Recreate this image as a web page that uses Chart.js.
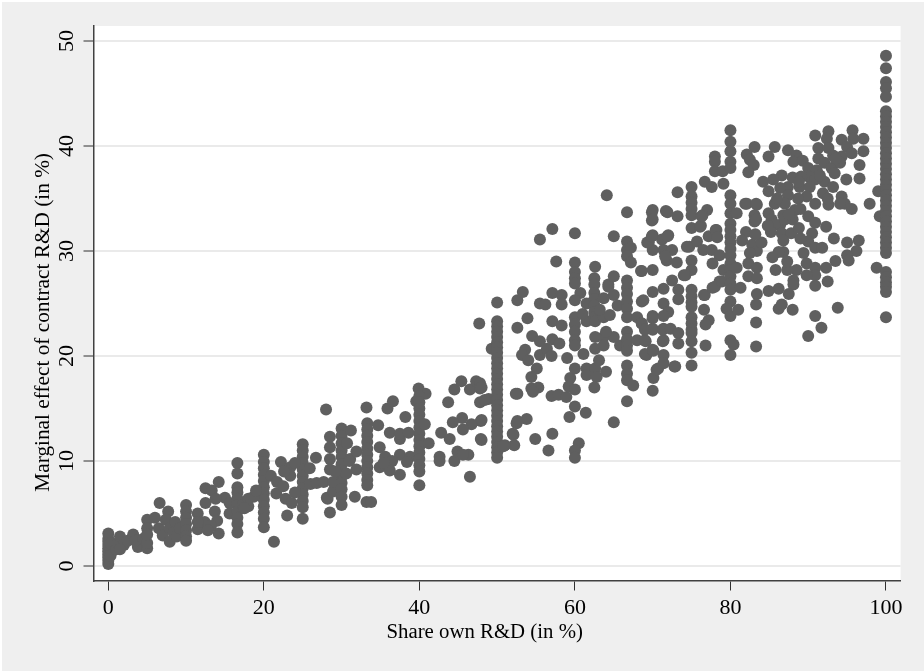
<!DOCTYPE html>
<html>
<head>
<meta charset="utf-8">
<title>Marginal effect of contract R&amp;D</title>
<script src="https://cdn.jsdelivr.net/npm/chart.js@4"></script>
<style>
  html, body { margin: 0; padding: 0; background: #fff; }
  #wrap { position: absolute; left: 2px; top: 2px; width: 922px; height: 669px; background: #efefef; }
</style>
</head>
<body>
<div id="wrap"><canvas id="chartScatter" width="922" height="669"></canvas></div>
<script>
// === values, [share own R&D, marginal effect] ===
const xTicks = [0, 20, 40, 60, 80, 100];
const yTicks = [0, 10, 20, 30, 40, 50];
const xTitle = "Share own R&D (in %)";
const yTitle = "Marginal effect of contract R&D (in %)";

const col0 = [[0,0.2],[0,0.5],[0,0.8],[0,1.1],[0,1.4],[0,1.7],[0,2],[0,2.3],[0,2.6],[0,3.1],[0.3,1],[0.3,2.2]];
const low0to10 = [[1,1.6],[1.2,2.2],[1.5,2.8],[2,2],[2.5,2.4],[1.5,1.6],[3.2,3],[3.8,1.8],[3.5,2.4],[5,1.7],[4.5,2.6],[5,2.2],[5,4.4],[5,3.6],[5,3],
  [6.6,6],[6,4.6],[6.5,3.6],[7,2.9],[7.7,5.2],[7.4,4.4],[7.9,3.6],[8.6,4.2],[8.4,3.2],[7.9,2.3],[8.8,2.8],[9.2,3.6],
  [10,5.8],[10,5.2],[10,4.6],[10,4],[10,3.4],[10,2.8],[10,2.4]];
const low10to16 = [[12.5,7.4],[14.2,8],[12.5,6],[13.3,7.2],[13.7,5.2],[11.5,5],[14,4.3],[14.2,3.1],[11.5,3.5],[12.4,4.2],[13.2,3.8],[11.5,4.2],[12.8,3.4],[15,6.5],[15.6,6],[15.6,5],[13.8,6.4]];
const col16 = [[16.6,9.8],[16.6,8.8],[16.6,7.5],[16.6,7],[16.6,6.4],[16.6,5.8],[16.6,5.2],[16.6,4.6],[16.6,4],[16.6,3.2]];
const col20 = [[20,10.6],[20,9.9],[20,9.3],[20,8.7],[20,8.1],[20,7.5],[20,6.9],[20,6.3],[20,5.7],[20,5.1],[20,4.5],[20,3.7],
  [17.3,5.8],[18,6.4],[18.7,6.6],[19,7.2],[18,5.7],[17.5,5.5]];
const col25 = [[25,11.6],[25,11],[25,10.4],[25,9.8],[25,9.2],[25,8.6],[25,8],[25,7.4],[25,6.8],[25,6.2],[25,5.6],[25,4.5],
  [22.2,9.9],[23.4,9.4],[20.9,8.6],[21.7,8],[21.6,6.9],[22.8,6.4],[23,4.8],[21.3,2.3],[22.5,7.6],[23.4,8.6],[24,7],[23.6,6],[22.6,9],[24,9.8],[26,7.8]];
const col30 = [[26.7,10.3],[25.9,9.3],[26.8,7.9],[27.7,8],[28,14.9],[28.5,12.3],[28.5,11.3],[28.5,9.2],[28.2,6.4],[28.1,6.5],[28.5,5.1],[28.9,7.1],[28.9,8],
  [30,13.1],[30,12.4],[30,11.7],[30,11],[30,10.4],[30,9.7],[30,9.1],[30,8.5],[30,7.9],[30,7.3],[30,6.6],[30,5.8],
  [31.2,12.9],[30.7,11.7],[31.1,10.2],[31.9,10.9],[31,10],[31.9,9.2],[30.6,8.8],[31.7,6.6],[28.5,10.2],[29.2,9]];
const col33 = [[33.2,15.1],[33.3,13.6],[33.3,13],[33.3,12.4],[33.3,11.8],[33.3,11.2],[33.3,10.6],[33.3,10],[33.3,9.4],[33.3,8.8],[33.3,8.2],[33.3,7.7],[33.2,6.1],[33.8,6.1],
  [34.7,13.4],[36.2,12.7],[37.5,12.1],[37.5,12.6],[34.9,11.3],[35.6,10.4],[37.5,10.6],[38.8,10.4],[36.5,10],[34.9,9.4],[36.2,9.1],[37.5,8.7],[35.9,15],[36.6,15.7],[38.2,14.2],[35.4,9.8],[38.4,9.9]];
const col40 = [[39.9,16.9],[40.8,16.4],[39.6,15.7],[40,16.2],[40,15.6],[40,15],[40,14.4],[40,13.8],[40,13.2],[40,12.6],[40,12],[40,11.4],[40,10.8],[40,10.2],[40,9.6],[40,9],[40,7.7],
  [40.7,13.5],[41.2,11.7],[42.8,12.7],[42.6,10.4],[42.6,10],[38.6,12.7]];
const mid42to49 = [[43.7,15.6],[44.5,16.8],[45.4,17.6],[46.5,16.8],[47.3,17.6],[47.8,17.4],[47.8,16.9],[47.8,15.6],[48.9,15.9],[47.9,12.1],[47.9,13.8],[46.7,13.5],[45.6,13],[45.5,14.1],[44.3,13.7],[43.9,12.1],
  [44.5,10],[44.9,10.9],[46.3,10.6],[45.6,10.6],[46.5,8.5],[47.7,23.1],[48,17],[49.3,20.7],[48.4,15.8],[48,13.9],[48,12]];
const col50 = [[50,25.1],[50,23.3],[50,22.8],[50,22.3],[50,21.8],[50,21.3],[50,20.8],[50,20.3],[50,19.8],[50,19.3],[50,18.8],[50,18.3],[50,17.8],[50,17.3],[50,16.8],[50,16.3],[50,15.8],[50,15.3],[50,14.8],[50,14.3],[50,13.8],[50,13.3],[50,12.8],[50,12.3],[50,11.8],[50,11.3],[50,10.8],[50,10.3]];
const mid51to60 = [[52.6,25.3],[53.3,26.1],[53.9,23.6],[52.6,22.7],[55.5,25],[56.2,24.9],[57.1,26],[58.3,25.8],[58.3,24.9],[60.7,26],[57.1,23.3],[58.3,22.9],
  [54.5,21.9],[55.5,21.4],[53.6,20.6],[53.2,20.1],[54,19.6],[55.5,20.1],[56.4,20.7],[57,20],[57.1,21.6],[58,21.2],[55.1,18.8],[54.4,18],[54.4,16.9],[55.3,17],[54.6,16.6],[52.6,16.4],[57,16.2],[57.9,16.3],[58.9,16.1],[59,19.8],[59.4,17.9],[59.2,17.1],
  [59.3,14.2],[53.8,14],[52.5,13.6],[52,12.6],[52.2,11.5],[51,11.5],[54.9,12.1],[57.1,12.6],[56.6,11],[55.5,31.1],[57.1,32.1],[57.6,29],[52.4,16.4],[52.6,13.8],[52.1,12.5],[50.8,11.4]];
const col60 = [[60,31.7],[60,28.9],[60,28],[60,27.4],[60,26.9],[60,25.3],[60,23.7],[60,23],[60,22.3],[60,21.5],[60,21],[60,18.8],[60,16.8],[60,15.2],[60.5,11.7],[60,11],[60,10.3],[61.1,20.2],[61.5,18.8],[61.4,14.6],[61.5,18.2],[61.5,23.3],[61,24],[61.5,25]];
const col62 = [[62.6,28.5],[62.5,27.4],[62.5,26.8],[62.5,26],[62.5,25.4],[62.5,24.8],[62.5,24.2],[62.5,23.7],[62.6,23.3],[62.6,21.8],[62.6,20.7],[62.6,18.8],[62.8,18],[62.5,17],[63.1,19.6],[64,18.5],[65,13.7],
  [63.7,23.7],[64.5,23.9],[63.2,24.4],[63.7,21.8],[65,21.8],[63.7,21],[65.8,21],[65,25.8],[64.3,26.8],[63.7,25.5],[64.1,35.3],[65,31.4],[65,27.6],[64.3,26.6],[64,22.3],[65.5,24.8]];
const col66 = [[66.7,33.7],[66.7,30.9],[66.7,30.1],[67.2,30.3],[66.7,29.5],[67.2,28.9],[66.7,27.2],[66.7,26.5],[66.7,25.9],[66.7,25.2],[66.7,24.5],[66.7,23.7],[66.7,22.3],[66.7,21.6],[66.7,21],[66.7,20.5],[66.7,19.1],[66.7,18.3],[66.7,17.7],[67.5,17.2],[66.7,15.7],
  [68,23.7],[68.6,23.1],[68,21.5],[69.1,21.4],[69.2,20.1],[68.6,25.2],[68.5,28.1],[68.6,28.1],[68.8,25.3],[68.6,23.1],[69,21.5],[69,20.2],[69,22.5]];
const col70 = [[69.9,33.7],[69.9,32.9],[70,33.9],[70,33],[70,31.5],[69.5,30.8],[70,30.1],[70,28.2],[70,26.1],[70,23.8],[70,23.6],[70,22.6],[70,22.5],[70,20.6],[70.1,20.5],[70.7,18.8],[70.1,17.9],[70,16.7],[70.5,18.7],
  [71.9,33.7],[71.7,33.8],[71.2,31.1],[72,31.5],[71.4,30.1],[71.4,26.4],[71.4,25],[72,24.2],[71.4,23.8],[71.4,22.6],[71.4,21.5],[71.3,22.5],[71.3,21.4],[71.4,20.1],[71.4,19.3],[72.5,30.1],[71.8,29.1],[72.5,27.2],[72.3,22.6],[72.8,19],[71.9,31.4],[69.3,30.8],[69.9,31.4],[71.6,29.5]];
const col75 = [[73.2,35.6],[73.2,33.3],[73.1,28.9],[73.3,26.3],[73.3,25.4],[73.3,22.2],[73.3,21.2],[72.9,19],[75,36.1],[75,35.2],[75,34.6],[75,34],[75,33.4],[75,32.2],[75,29.1],[75,28.2],[74.2,27.7],[74,27.7],[75,26.3],[75,25.7],[75,25.1],[75,24.7],[75,23.7],[75,23.1],[75,22.5],[75,22.2],[75,21.4],[75,20.3],[75,19.1],
  [74.7,30.4],[75.7,30.9],[74.4,30.4],[76.1,32.3],[76.2,32.4],[76.5,30.1],[76.7,36.6],[77.6,36.1],[79.1,36.4],[77,33.9],[76.4,33.4],[76.3,33.3],[77.2,31.4],[76.6,25.8],[76.7,25.8],[76.6,24.4],[77.2,23.4],[76.8,23],[76.8,21]];
const col80 = [[78,39],[78,38.5],[78,37.6],[79,37.6],[78.1,32],[78.2,32],[78.3,31.3],[77.6,30.1],[78.6,29.6],[77.7,28.8],[79.1,28.2],[78.6,27.1],[77.7,26.5],[78,26.6],[78.9,27.1],
  [80,41.5],[80,40.4],[80,39.5],[80,38.5],[80,37.9],[80,35.3],[80,34.5],[80,33.6],[80,32.6],[80,32],[80,31.4],[80,30.8],[80,30.2],[80,29.6],[80,28.8],[80,28.2],[80,27.6],[80,26.9],[80,26.3],[80,25.2],[79.5,24.5],[80,23.8],[80,21.5],[80.4,21.1],[80,20.1],[80.8,33.6],[80.8,28.4],[81.3,26.5],[81,24.4]];
const col83 = [[83.1,39.9],[82.1,39.2],[82.5,38.7],[83,38.2],[82.3,37.5],[81.9,34.5],[83.4,34.4],[83.1,33.4],[83.1,32.8],[83.3,33],[82.1,34.5],[83.3,34.5],[82.3,28.8],[83.4,28.4],[82.3,27.6],[83.4,27.4],[83.4,25.9],[83.3,24.9],[83.3,23.2],[83.3,20.9],
  [82,31.8],[81.5,31],[82.8,30.6],[83.4,30],[84,30.8],[83.2,31.6],[82.5,29.8]];
const high85to92 = [[85.7,39.9],[84.9,39],[87.4,39.6],[88.5,39.1],[88.1,38.5],[89.3,38.6],[90,37.9],[90.9,41],[92.6,41.4],[92.4,40.7],[91.3,39.8],[91.3,38.8],[92.6,39.8],[92.1,38.4],[91.1,37.7],[92.1,36.6],[91.9,35.5],[90.9,34.5],[92.6,34.4],
  [90,37.1],[89.1,37.1],[90.9,36.8],[88.9,36.1],[90.2,36.1],[89.8,35.2],[88.7,35],[87.4,36.1],[86.6,37.2],[85.5,36.8],[84.2,36.6],[84.9,35.7],[86.4,36],[87.4,35.3],[88.3,33.9],[87,34.5],[85.7,34.5],[84.9,33.6],[85.3,33],[86.8,33.4],[86.4,32.5],[90,33.3],[90.9,32.7],[92.3,32.3],
  [85.7,32.5],[86.6,31.7],[87.8,31.7],[90.5,31.7],[90,30.9],[90.9,30.3],[91.8,30.3],[89.4,29.8],[89.8,28.8],[90.9,28.4],[90.9,27.7],[90.9,26.7],[92.5,27.1],[89.8,27.7],[88.5,28.2],[87.3,28.2],[85.8,28.2],[88.1,27.2],[88.1,26.8],[87.5,25.9],[86.2,26.4],[84.9,26.2],[86.2,24.5],[86.6,24.9],[88,24.4],[90.9,23.8],[91.7,22.7],[90,21.9],[92.3,28.4],
  [86.8,29.9],[86.2,29.9],[87.3,29],[85.4,29.4],[86.8,31],[89,31.2],[88,33],[87,33],[88.8,32.2],[85.2,31.8],[84.8,32.4],[88,37],[88.8,36.6],[91.5,37.2],[89,34],[86,35],[87.5,33.5],[92.5,35]];
const high93to99 = [[93.2,39.1],[95.7,41.5],[94.3,40.6],[97.1,40.7],[95.8,40.7],[97.1,39.5],[96.6,38.2],[96.6,36.9],[95,39.9],[94.3,39],[95.6,39.3],[93,37.9],[94.1,38.4],[93.4,37.4],[94.9,36.8],[93.2,36.1],[94.3,35.2],[94.7,34.5],[95.6,34],[94.1,34.5],
  [93.3,31.2],[95,30.8],[96.5,31],[96.2,30],[95,29.6],[95.2,29.1],[93.5,29.05],[93.8,24.6],[97.9,34.5],[99,35.7],[99.2,33.3],[98.8,28.4],[93.5,38.8]];
const col100 = [[100,48.6],[100,47.4],[100,46.1],[100,45.5],[100,44.7],[100,43.3],[100,42.8],[100,42.3],[100,41.8],[100,41.3],[100,40.8],[100,40.3],[100,39.8],[100,39.3],[100,38.8],[100,38.3],[100,37.8],[100,37.3],[100,36.8],[100,36.3],[100,35.8],[100,35.3],[100,34.8],[100,34.3],[100,33.8],[100,33.3],[100,32.8],[100,32.3],[100,31.8],[100,31.3],[100,30.8],[100,30.3],[100,29.8],[100,28],[100,27.5],[100,27],[100,26.6],[100,26.1],[100,23.7]];

const points = [].concat(col0, low0to10, low10to16, col16, col20, col25, col30, col33, col40, mid42to49, col50, mid51to60,
  col60, col62, col66, col70, col75, col80, col83, high85to92, high93to99, col100);

const serif = "'Liberation Serif', 'Times New Roman', serif";

// white plot region on the grey page, axis titles sit off centre in the original
const plotBackground = {
  id: "plotBackground",
  beforeDraw(chart) {
    const a = chart.chartArea;
    chart.ctx.fillStyle = "#ffffff";
    chart.ctx.fillRect(a.left, a.top, a.right - a.left, a.bottom - a.top);
  },
  afterDraw(chart) {
    const ctx = chart.ctx;
    ctx.save();
    ctx.fillStyle = "#000";
    ctx.textAlign = "left";
    ctx.textBaseline = "alphabetic";
    ctx.font = "20.8px " + serif;
    ctx.fillText(xTitle, 384.5, 635.7);
    ctx.translate(47.3, 489.7);
    ctx.rotate(-Math.PI / 2);
    ctx.font = "21.3px " + serif;
    ctx.fillText(yTitle, 0, 0);
    ctx.restore();
  }
};

new Chart(document.getElementById("chartScatter"), {
  type: "scatter",
  data: {
    datasets: [{
      data: points.map(p => ({ x: p[0], y: p[1] })),
      backgroundColor: "#5f5f5f",
      borderWidth: 0,
      pointRadius: 6,
      clip: false
    }]
  },
  options: {
    responsive: false,
    animation: false,
    layout: { padding: { top: 24, right: 23.4, left: 0, bottom: 0 } },
    plugins: { legend: { display: false }, tooltip: { enabled: false } },
    scales: {
      x: {
        type: "linear",
        min: -1.903,
        max: 101.88,
        afterBuildTicks: s => { s.ticks = xTicks.map(v => ({ value: v })); },
        afterFit: s => { s.height = 90.5; },
        border: { color: "#404040", width: 1.5 },
        grid: { drawOnChartArea: false, tickLength: 10, tickColor: "#303030", tickWidth: 1 },
        ticks: { color: "#000", font: { family: serif, size: 22 }, padding: 5, maxRotation: 0 }
      },
      y: {
        min: -1.381,
        max: 51.43,
        afterBuildTicks: s => { s.ticks = yTicks.map(v => ({ value: v })); },
        afterFit: s => { s.width = 91.5; },
        border: { color: "#404040", width: 1.5 },
        grid: { color: "#eaeaea", lineWidth: 2, tickLength: 10, tickColor: "#303030", tickWidth: 1 },
        ticks: { color: "#000", font: { family: serif, size: 22 }, padding: 5, minRotation: 90, maxRotation: 90, crossAlign: "center" }
      }
    }
  },
  plugins: [plotBackground]
});
</script>
</body>
</html>
